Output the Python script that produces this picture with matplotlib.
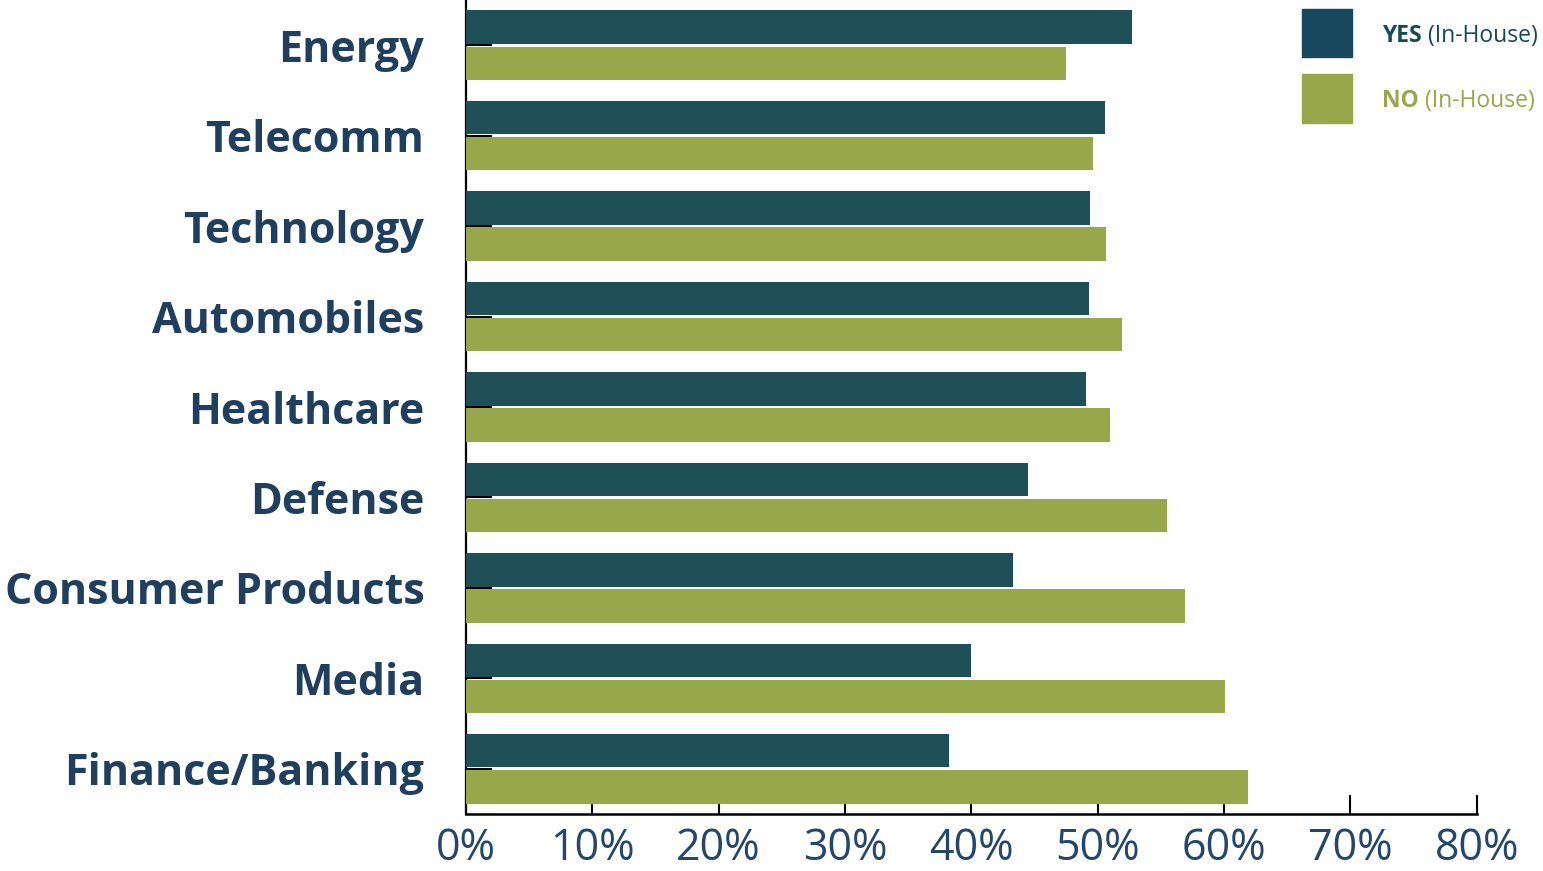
import numpy as np
import matplotlib
matplotlib.use('Agg')
import matplotlib.pyplot as plt
from matplotlib.patches import Rectangle

# data (percent)
categories = ['Energy', 'Telecomm', 'Technology', 'Automobiles', 'Healthcare',
              'Defense', 'Consumer Products', 'Media', 'Finance/Banking']
yes_vals = [52.7, 50.6, 49.4, 49.3, 49.1, 44.5, 43.3, 40.0, 38.2]
no_vals = [47.5, 49.6, 50.7, 51.9, 51.0, 55.5, 56.9, 60.1, 61.9]
xticks = [0, 10, 20, 30, 40, 50, 60, 70, 80]

yes_color = '#1f5058'
no_color = '#97a74a'
label_color = '#1f3f5f'

plt.rcParams['font.family'] = ['Open Sans', 'DejaVu Sans']

fig = plt.figure(figsize=(15.43, 8.71), dpi=100)
ax = fig.add_axes([0.302, 0.0654, 0.655, 0.9346])

y = np.arange(len(categories))
h = 0.37
ax.barh(y - 0.2, yes_vals, height=h, color=yes_color, zorder=3)
ax.barh(y + 0.2, no_vals, height=h, color=no_color, zorder=3)

ax.set_xlim(0, 80)
ax.set_ylim(len(categories) - 0.5, -0.5)
ax.set_yticks(y)
ax.set_yticklabels(categories, fontsize=31, fontweight='bold', color=label_color)
ax.set_xticks(xticks)
ax.set_xticklabels([f'{v}%' for v in xticks], fontsize=31, color='#23466a')

ax.tick_params(axis='y', direction='in', length=19, width=1.5, color='black', pad=30)
ax.tick_params(axis='x', direction='in', length=14, width=1.5, color='black', pad=9)
ax.spines['top'].set_visible(False)
ax.spines['right'].set_visible(False)
ax.spines['left'].set_linewidth(1.6)
ax.spines['bottom'].set_linewidth(1.8)
ax.spines['left'].set_zorder(1)
ax.set_axisbelow(True)

# legend drawn by hand (bold key word + normal suffix)
legend = [('YES', ' (In-House)', '#17475c', 0.962), ('NO', ' (In-House)', no_color, 0.887)]
for key, suffix, col, yy in legend:
    fig.patches.append(Rectangle((1302 / 1543, yy - 0.028), 50 / 1543, 0.056,
                                 transform=fig.transFigure, color=col))
    t1 = fig.text(1382 / 1543, yy - 0.003, key, fontsize=16.5, fontweight='bold',
                  color=col, va='center')
    ax.annotate(suffix, xy=(1, 0), xycoords=t1, va='bottom', ha='left',
                fontsize=16.5, color=col, annotation_clip=False)

fig.savefig('out.png', dpi=100)
